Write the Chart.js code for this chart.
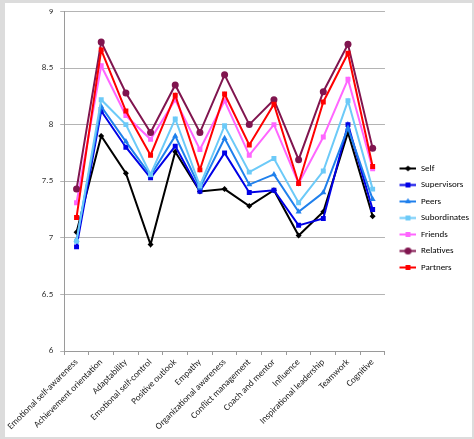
<!DOCTYPE html>
<html>
<head>
<meta charset="utf-8">
<script src="https://cdn.jsdelivr.net/npm/chart.js@4"></script>
<style>
  html, body { margin: 0; padding: 0; background: #dcdcdc; }
  #frame { position: absolute; left: 5px; top: 3px; width: 467px; height: 434px; background: #fff; overflow: hidden; }
  #chart_line { position: absolute; left: 0; top: -4px; }
</style>
</head>
<body>
<div id="frame"><canvas id="chart_line" width="467" height="438"></canvas></div>
<script>
// ----------------------------------------------------------------------
//  data
// ----------------------------------------------------------------------
var categories = ['Emotional self-awareness', 'Achievement orientation', 'Adaptability',
  'Emotional self-control', 'Positive outlook', 'Empathy', 'Organizational awareness',
  'Conflict management', 'Coach and mentor', 'Influence', 'Inspirational leadership',
  'Teamwork', 'Cognitive'];
var yTicks = [6, 6.5, 7, 7.5, 8, 8.5, 9];

var self_         = [7.05, 7.90, 7.57, 6.94, 7.76, 7.41, 7.43, 7.28, 7.42, 7.02, 7.23, 7.93, 7.19];
var supervisors   = [6.92, 8.12, 7.80, 7.53, 7.81, 7.41, 7.75, 7.40, 7.42, 7.11, 7.17, 8.00, 7.25];
var peers         = [6.98, 8.16, 7.85, 7.55, 7.90, 7.44, 7.88, 7.47, 7.56, 7.23, 7.40, 7.97, 7.34];
var subordinates  = [6.97, 8.22, 8.00, 7.56, 8.05, 7.46, 7.99, 7.58, 7.70, 7.31, 7.59, 8.21, 7.43];
var friends       = [7.31, 8.52, 8.08, 7.87, 8.22, 7.78, 8.21, 7.73, 8.00, 7.48, 7.89, 8.40, 7.61];
var relatives     = [7.43, 8.73, 8.28, 7.93, 8.35, 7.93, 8.44, 8.00, 8.22, 7.69, 8.29, 8.71, 7.79];
var partners      = [7.18, 8.66, 8.12, 7.73, 8.26, 7.60, 8.27, 7.82, 8.18, 7.48, 8.20, 8.63, 7.63];

var seriesNames  = ['Self', 'Supervisors', 'Peers', 'Subordinates', 'Friends', 'Relatives', 'Partners'];
var seriesData   = [self_, supervisors, peers, subordinates, friends, relatives, partners];
var seriesColors = ['#000000', '#0000e6', '#2080ec', '#6ccaf8', '#ff66ff', '#80154f', '#ff0000'];
var seriesMarks  = ['rectRot', 'rect', 'triangle', 'rect', 'rect', 'circle', 'rect'];
var seriesRadius = [3, 3.5, 3.5, 3.5, 3.5, 3.5, 3.5];

var FONT = 'Carlito, "Liberation Sans Narrow", "Liberation Sans", sans-serif';
var SAMPLE_W = 24;

// legend sample: blank gap, then a short line with the marker in the middle
var legendSample = function(i){
	var c = document.createElement('canvas');
	c.width = SAMPLE_W; c.height = 9;
	var g = c.getContext('2d');
	g.strokeStyle = seriesColors[i];
	g.fillStyle = seriesColors[i];
	g.lineWidth = 2;
	g.beginPath(); g.moveTo(7, 4.5); g.lineTo(SAMPLE_W, 4.5); g.stroke();
	Chart.helpers.drawPoint(g, {pointStyle: seriesMarks[i], radius: seriesRadius[i], rotation: 0, borderWidth: 0}, 15.5, 4.5);
	return c;
};

var datasets = seriesNames.map(function(name, i){
	return {
		label: name,
		data: seriesData[i],
		borderColor: seriesColors[i],
		backgroundColor: seriesColors[i],
		borderWidth: 2,
		pointStyle: seriesMarks[i],
		pointRadius: seriesRadius[i],
		pointBorderWidth: 0,
		order: seriesNames.length - i,   // later series on top, as in the original
		tension: 0
	};
});

var ctx = document.getElementById('chart_line').getContext('2d');
var chart = new Chart(ctx, {
	type: 'line',
	data: { labels: categories, datasets: datasets },
	options: {
		responsive: false,
		animation: false,
		devicePixelRatio: 1,
		// legend keeps a trailing padding on its right, pull it back in
		layout: { padding: { left: 0, top: 0, right: -7, bottom: 0 } },
		plugins: {
			tooltip: { enabled: false },
			legend: {
				position: 'right',
				labels: {
					font: { family: FONT, size: 9 },
					color: '#222',
					usePointStyle: true,
					pointStyleWidth: SAMPLE_W,
					padding: 7.5,
					generateLabels: function(c){
						return c.data.datasets.map(function(ds, i){
							return { text: ds.label, pointStyle: legendSample(i), datasetIndex: i,
								fillStyle: ds.borderColor, strokeStyle: ds.borderColor, lineWidth: 0, hidden: false };
						});
					}
				}
			}
		},
		scales: {
			x: {
				offset: true,
				grid: { display: true, drawOnChartArea: false, offset: true, tickLength: 4, color: '#9a9a9a' },
				border: { color: '#9a9a9a' },
				ticks: { autoSkip: false, minRotation: 45, maxRotation: 45, padding: 2,
					font: { family: FONT, size: 9.2 }, color: '#222' },
				afterFit: function(s){ s.height = 86; }
			},
			y: {
				min: 6, max: 9,
				afterBuildTicks: function(s){ s.ticks = yTicks.map(function(v){ return {value: v}; }); },
				grid: { color: '#b4b4b4', lineWidth: 1, tickLength: 4 },
				border: { color: '#9a9a9a' },
				ticks: { font: { family: FONT, size: 9 }, color: '#333', padding: 7,
					callback: function(v){ return String(v); } },
				afterFit: function(s){ s.width = 59; }
			}
		}
	}
});
</script>
</body>
</html>
